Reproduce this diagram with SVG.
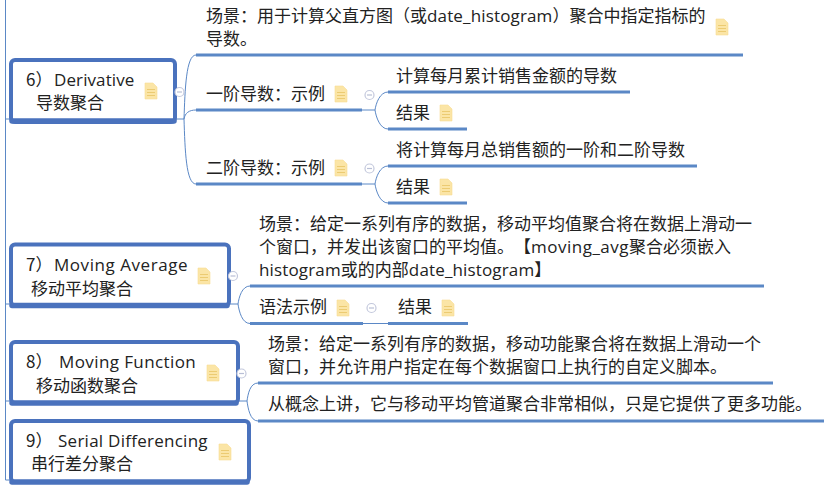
<svg xmlns="http://www.w3.org/2000/svg" xmlns:xlink="http://www.w3.org/1999/xlink" width="829" height="489" viewBox="0 0 829 489">
<style>
text{font-family:"Noto Sans CJK SC","Noto Sans",sans-serif;font-size:17px;fill:#222;text-spacing-trim:space-all}
.lat{font-family:"Open Sans","Noto Sans",sans-serif;font-size:17px}
.ls{letter-spacing:.15px}
.box{fill:#fff;stroke:#4a72bd;stroke-width:4}
.base{fill:none;stroke:#4a72bd;stroke-width:5.500;stroke-linecap:round}
.thick{fill:none;stroke:#5b88c6;stroke-width:3}
.thin{fill:none;stroke:#5b88c6;stroke-width:1}
.col{fill:#fff;stroke:#c3c8dc;stroke-width:1.2}
.colm{stroke:#b9bfd6;stroke-width:1.2}
</style>
<defs>
<g id="note">
<path d="M0 0H8L12 4V16H0Z" fill="#fbe5a6" stroke="#f8dc95" stroke-width=".6"/>
<path d="M2 6.500H10M2 9.500H10M2 12.500H10" stroke="#eccb72" stroke-width="1.2"/>
</g>
<g id="minus">
<circle r="4.500" class="col"/>
<path d="M-2.500 0H2.500" class="colm"/>
</g>
</defs>
<rect width="829" height="489" fill="#fff"/>
<g id="connectors">
<path class="thin" d="M5.500 0V480"/>
<path class="thin" d="M5.500 119H10M176 119H184M5.500 304H10M229 304H238M5.500 401H10M238 401H247M5.500 480H10"/>
<path class="thin" d="M184 119C185 90 186 55 196 55M184 119C185 113 189 110 196 110M184 119C185 150 186 184 196 184"/>
<path class="thick" d="M196 55H743M196 110H362M196 184H362"/>
<path class="thin" d="M362 110H375C376 103 380 92 388 92M375 110C376 117 380 129 388 129M362 184H375C376 177 380 166 388 166M375 184C376 191 380 203 388 203"/>
<path class="thick" d="M388 92H630M388 129H467M388 166H697M388 203H467"/>
<path class="thin" d="M238 304C239 297 242 286 250 286M238 304C239 311 242 323.500 250 323.500"/>
<path class="thick" d="M250 286H764M250 323.500H363M388 323.500H468"/>
<path class="thin" d="M363 323.500H388"/>
<path class="thin" d="M247 401C248 394 250 383 258 383M247 401C248 408 250 421 258 421"/>
<path class="thick" d="M258 383H773M258 421H824"/>
</g>
<g id="node-6">
<rect class="box" x="11" y="60" width="164" height="62" rx="4"/>
<path class="base" d="M12 121H174"/>
<text x="26" y="86">6）</text><text class="lat" x="54" y="86" style="letter-spacing:.1px">Derivative</text>
<text x="36" y="109">导数聚合</text>
<use xlink:href="#note" x="145" y="83"/>
<use xlink:href="#minus" x="179.500" y="92"/>
</g>
<g id="node-7">
<rect class="box" x="11" y="244.500" width="218" height="61" rx="4"/>
<path class="base" d="M12 305.500H227"/>
<text x="26" y="271">7）</text><text class="lat" x="54" y="271" style="letter-spacing:.55px">Moving Average</text>
<text x="31" y="295">移动平均聚合</text>
<use xlink:href="#note" x="198" y="268"/>
<use xlink:href="#minus" x="233" y="276"/>
</g>
<g id="node-8">
<rect class="box" x="11" y="342" width="227" height="61" rx="4"/>
<path class="base" d="M12 403H236"/>
<text x="26" y="368">8）</text><text class="lat" x="59" y="368" style="letter-spacing:.4px">Moving Function</text>
<text x="36" y="392">移动函数聚合</text>
<use xlink:href="#note" x="207" y="365"/>
<use xlink:href="#minus" x="241.500" y="373.500"/>
</g>
<g id="node-9">
<rect class="box" x="11" y="421" width="238" height="61" rx="4"/>
<path class="base" d="M12 482H247"/>
<text x="26" y="447">9）</text><text class="lat" x="58" y="447" style="letter-spacing:.26px">Serial Differencing</text>
<text x="31" y="470">串行差分聚合</text>
<use xlink:href="#note" x="219" y="444"/>
</g>
<g id="topic-6-scene">
<text x="206" y="22">场景：用于计算父直方图（或<tspan class="lat ls">date_histogram</tspan>）聚合中指定指标的</text>
<text x="206" y="45">导数。</text>
<use xlink:href="#note" x="716" y="19"/>
</g>
<g id="topic-6-first">
<text x="206" y="100">一阶导数：示例</text>
<use xlink:href="#note" x="335" y="86"/>
<use xlink:href="#minus" x="369.500" y="95"/>
</g>
<g id="topic-6-first-a"><text x="396" y="82">计算每月累计销售金额的导数</text></g>
<g id="topic-6-first-b"><text x="396" y="119">结果</text><use xlink:href="#note" x="440" y="105"/></g>
<g id="topic-6-second">
<text x="206" y="174">二阶导数：示例</text>
<use xlink:href="#note" x="335" y="160"/>
<use xlink:href="#minus" x="369.500" y="168.500"/>
</g>
<g id="topic-6-second-a"><text x="396" y="156">将计算每月总销售额的一阶和二阶导数</text></g>
<g id="topic-6-second-b"><text x="396" y="193">结果</text><use xlink:href="#note" x="440" y="179"/></g>
<g id="topic-7-scene">
<text x="259" y="230">场景：给定一系列有序的数据，移动平均值聚合将在数据上滑动一</text>
<text x="259" y="253">个窗口，并发出该窗口的平均值。【<tspan class="lat" style="letter-spacing:.5px">moving_avg</tspan>聚合必须嵌入</text>
<text x="259" y="276"><tspan class="lat ls">histogram</tspan>或的内部<tspan class="lat ls">date_histogram</tspan>】</text>
</g>
<g id="topic-7-syntax">
<text x="259" y="313">语法示例</text>
<use xlink:href="#note" x="337" y="300"/>
<use xlink:href="#minus" x="371.500" y="308"/>
</g>
<g id="topic-7-result"><text x="398" y="313">结果</text><use xlink:href="#note" x="442" y="300"/></g>
<g id="topic-8-scene">
<text x="268" y="350">场景：给定一系列有序的数据，移动功能聚合将在数据上滑动一个</text>
<text x="268" y="373">窗口，并允许用户指定在每个数据窗口上执行的自定义脚本。</text>
</g>
<g id="topic-8-concept">
<text x="268" y="410">从概念上讲，它与移动平均管道聚合非常相似，只是它提供了更多功能。</text>
</g>
</svg>
